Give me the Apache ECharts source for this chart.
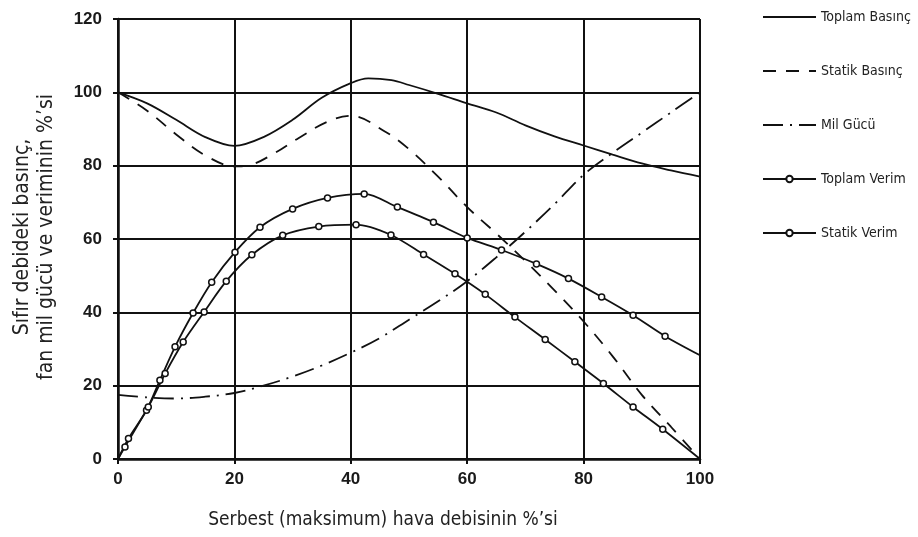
<!DOCTYPE html>
<html>
<head>
<meta charset="utf-8">
<script src="https://cdn.jsdelivr.net/npm/echarts@6/dist/echarts.min.js"></script>
<style>
html,body{margin:0;padding:0;background:#fff;}
#chart{width:918px;height:537px;}
</style>
</head>
<body>
<div id="chart"></div>
<script>
const seriesNames = ['Toplam Basınç', 'Statik Basınç', 'Mil Gücü', 'Toplam Verim', 'Statik Verim'];
const xTitle = 'Serbest (maksimum) hava debisinin %\u2019si';
const yTitle = 'Sıfır debideki basınç,\nfan mil gücü ve veriminin %\u2019si';

const toplamBasinc = [[0,100],[5,97],[10,92.5],[15,87.8],[20,85.4],[25,87.8],[30,92.5],[35,98.5],[40,102.5],[43,103.8],[47,103.3],[50,102],[55,99.6],[60,97],[65,94.5],[70,91],[75,88],[80,85.5],[85,83],[90,80.6],[95,78.7],[100,77]];
const statikBasinc = [[0,100],[5,95],[10,88.5],[15,82.8],[20,79.8],[23,80.3],[27,83.5],[31,87.5],[36,92],[40,93.6],[46,89.2],[50,84.5],[55,77],[60,68.7],[65,61.5],[70,54],[75,46],[80,37.5],[85,28],[90,17.5],[95,8.8],[100,0]];
const milGucu = [[0,17.5],[5,16.8],[10,16.5],[15,17],[20,18],[25,20],[30,22.5],[35,25.5],[40,29],[45,33],[50,38],[55,43],[60,48.5],[65,55],[70,62],[75,69.5],[80,77.5],[85,83.5],[90,89],[95,94.5],[100,100]];
const toplamVerim = [[0,0],[1.8,5.6],[4.9,13.3],[7.2,21.5],[9.8,30.6],[12.9,39.8],[16.1,48.2],[20.1,56.4],[24.4,63.2],[30,68.2],[36,71.2],[42.3,72.3],[48,68.7],[54.2,64.6],[60,60.3],[65.9,57],[71.9,53.2],[77.4,49.2],[83.1,44.2],[88.5,39.2],[94,33.5],[100,28.3]];
const statikVerim = [[0,0],[1.2,3.3],[5.2,14.2],[8.1,23.3],[11.2,31.9],[14.8,40.1],[18.6,48.5],[23,55.7],[28.3,61],[34.5,63.4],[40.9,63.9],[46.9,61.1],[52.5,55.8],[57.9,50.5],[63.1,44.9],[68.2,38.7],[73.4,32.6],[78.5,26.5],[83.4,20.6],[88.5,14.2],[93.6,8.1],[100,0]];

const narrow = "'Liberation Sans Narrow', 'DejaVu Sans Condensed', 'Roboto Condensed', sans-serif";
const INK = '#111';

function plainLine(name, data, lineType) {
  return {
    name: name, type: 'line', data: data, smooth: 0.35, symbol: 'none',
    lineStyle: { color: INK, width: 1.8, type: lineType },
    itemStyle: { color: INK },
    z: 3, animation: false
  };
}
function markedLine(name, data) {
  const last = data.length - 1;
  return {
    name: name, type: 'line', data: data, smooth: 0.3,
    symbol: function (v, p) { return (p.dataIndex === 0 || p.dataIndex === last) ? 'none' : 'circle'; },
    symbolSize: 6, showSymbol: true,
    lineStyle: { color: INK, width: 1.8 },
    itemStyle: { color: '#fff', borderColor: INK, borderWidth: 1.5 },
    z: 4, animation: false
  };
}

const chart = echarts.init(document.getElementById('chart'), null, { renderer: 'canvas' });
chart.setOption({
  backgroundColor: '#fff',
  animation: false,
  grid: { left: 118, right: 218, top: 19, bottom: 78, containLabel: false },
  xAxis: {
    type: 'value', min: 0, max: 100, interval: 20,
    axisLine: { show: true, lineStyle: { color: INK, width: 2.5 } },
    axisTick: { show: true, length: 5, lineStyle: { color: INK, width: 2 } },
    axisLabel: { color: '#1a1a1a', fontFamily: "'Liberation Sans', Arial, sans-serif", fontWeight: 'bold', fontSize: 17, margin: 12 },
    splitLine: { show: true, lineStyle: { color: INK, width: 2 } }
  },
  yAxis: {
    type: 'value', min: 0, max: 120, interval: 20,
    axisLine: { show: true, lineStyle: { color: INK, width: 2.5 } },
    axisTick: { show: true, length: 5, lineStyle: { color: INK, width: 2 } },
    axisLabel: { color: '#1a1a1a', fontFamily: "'Liberation Sans', Arial, sans-serif", fontWeight: 'bold', fontSize: 17, margin: 16 },
    splitLine: { show: true, lineStyle: { color: INK, width: 2 } }
  },
  legend: {
    orient: 'vertical', left: 757, top: 5,
    itemWidth: 53, itemHeight: 8, itemGap: 40,
    textStyle: { fontFamily: narrow, fontSize: 14, color: '#222' },
    data: [
      { name: seriesNames[0], itemStyle: { opacity: 0 } },
      { name: seriesNames[1], itemStyle: { opacity: 0 } },
      { name: seriesNames[2], itemStyle: { opacity: 0 } },
      { name: seriesNames[3] },
      { name: seriesNames[4] }
    ]
  },
  graphic: [
    { type: 'text', x: 383, y: 520, style: { text: xTitle, fontFamily: narrow, fontSize: 19, fill: '#222', textAlign: 'center', textVerticalAlign: 'middle' } },
    { type: 'text', x: 35, y: 237, rotation: Math.PI / 2, style: { text: yTitle, fontFamily: narrow, fontSize: 21, fill: '#222', textAlign: 'center', textVerticalAlign: 'middle', lineHeight: 24 } }
  ],
  series: [
    plainLine(seriesNames[0], toplamBasinc, 'solid'),
    plainLine(seriesNames[1], statikBasinc, [13, 10]),
    plainLine(seriesNames[2], milGucu, [20, 7, 2, 7]),
    markedLine(seriesNames[3], toplamVerim),
    markedLine(seriesNames[4], statikVerim)
  ]
});
</script>
</body>
</html>
